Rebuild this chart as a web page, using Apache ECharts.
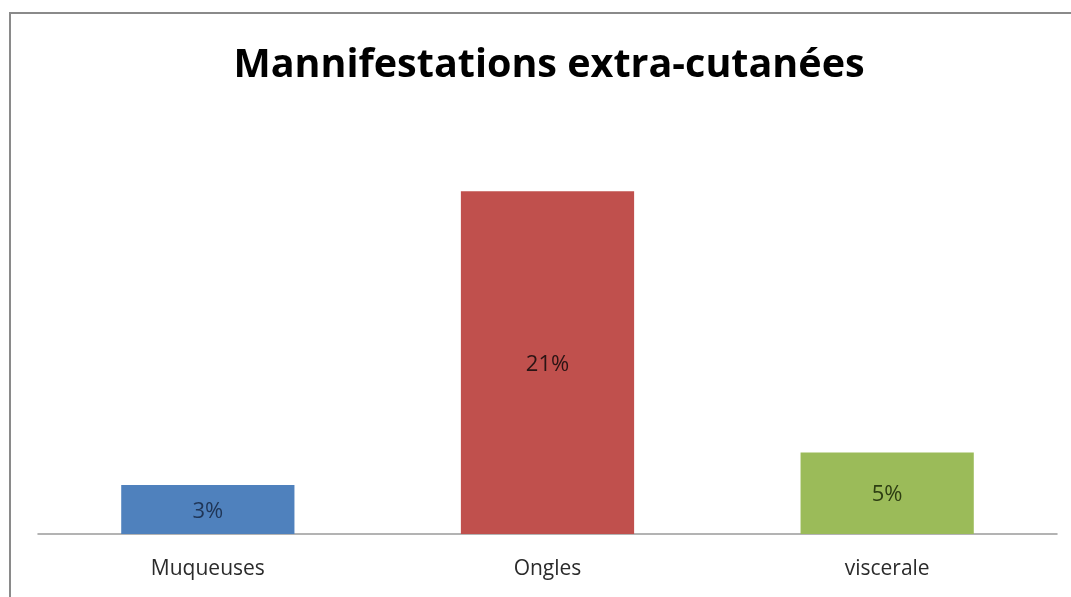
<!DOCTYPE html>
<html>
<head>
<meta charset="utf-8">
<script src="https://cdn.jsdelivr.net/npm/echarts@6/dist/echarts.min.js"></script>
<style>
  html, body { margin: 0; padding: 0; width: 1071px; height: 597px; overflow: hidden; background: #fff; }
  /* cadre du graphique, plus large que la capture */
  .frame {
    position: absolute; left: 9px; top: 12px;
    width: 1076px; height: 600px;
    border-left: 2px solid #8a8a8a; border-top: 2px solid #8a8a8a;
  }
  #chart { width: 100%; height: 100%; }
</style>
</head>
<body>
<div class="frame"><div id="chart"></div></div>
<script>
const titleText = 'Mannifestations extra-cutanées';
const categories = ['Muqueuses', 'Ongles', 'viscerale'];
const values = [3, 21, 5];
const barColors = ['#4f81bd', '#c0504d', '#9bbb59'];
const labelColors = ['#1f3556', '#2a1414', '#2d3d12'];

const chart = echarts.init(document.getElementById('chart'));

const option = {
  backgroundColor: 'transparent',
  animation: false,
  title: {
    text: titleText,
    left: 'center',
    top: 27,
    textStyle: {
      fontFamily: 'Open Sans',
      fontWeight: 'bold',
      fontSize: 39.5,
      color: '#000'
    }
  },
  grid: {
    left: 27,
    width: 1019,
    top: 112,
    height: 408
  },
  xAxis: {
    type: 'category',
    data: categories,
    axisLine: { lineStyle: { color: '#9a9a9a', width: 1.5 } },
    axisTick: { show: false },
    axisLabel: {
      margin: 25,
      fontFamily: 'Open Sans',
      fontSize: 21,
      color: '#2b2b2b'
    }
  },
  yAxis: {
    type: 'value',
    min: 0,
    max: 25,
    show: false
  },
  series: [{
    type: 'bar',
    barWidth: '51%',
    data: values.map((v, i) => ({
      value: v,
      itemStyle: { color: barColors[i] },
      label: { color: labelColors[i] }
    })),
    label: {
      show: true,
      position: 'inside',
      offset: [0, 2],
      formatter: '{c}%',
      fontFamily: 'Open Sans',
      fontSize: 22
    }
  }]
};

chart.setOption(option);
</script>
</body>
</html>
